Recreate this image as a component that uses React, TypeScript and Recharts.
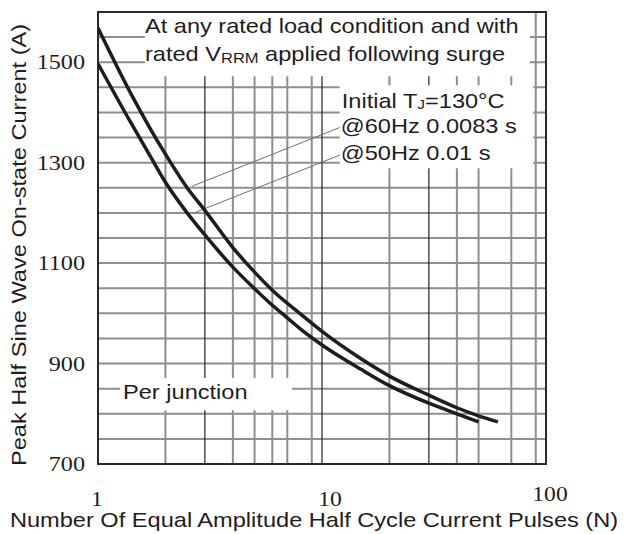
import React from "react";
import {
  CartesianGrid,
  Line,
  LineChart,
  ReferenceArea,
  ReferenceLine,
  XAxis,
  YAxis,
} from "recharts";

// 60Hz 0.0083 s (upper curve)
const UPPER_N = [1, 1.4, 1.7, 2, 2.5, 3, 4, 5, 6, 8, 10, 15, 20, 30, 40, 50, 61];
const UPPER_I = [1568, 1438, 1370, 1317, 1250, 1205, 1131, 1082, 1046, 999, 964, 909, 875, 837, 812, 796, 784];

// 50Hz 0.01 s (lower curve)
const LOWER_N = [1, 1.4, 1.7, 2, 2.5, 3, 4, 5, 6, 7, 8, 10, 15, 20, 30, 40, 50];
const LOWER_I = [1497, 1380, 1315, 1261, 1200, 1156, 1092, 1049, 1016, 991, 969, 937, 888, 856, 821, 800, 784];

const X_TICKS = [1, 10, 100];
const Y_TICKS = [700, 900, 1100, 1300, 1500];
const GRID_X_GRAY = [2, 4, 5, 6, 7, 8, 9, 20, 40, 50, 60, 70, 80, 90];
const GRID_X_DARK = [3, 10, 30];
const GRID_Y = [750, 800, 850, 900, 950, 1000, 1050, 1100, 1150, 1200, 1250, 1300, 1350, 1400, 1450, 1500, 1550];

const upperData = UPPER_N.map((n, i) => ({ n, i: UPPER_I[i] }));
const lowerData = LOWER_N.map((n, i) => ({ n, i: LOWER_I[i] }));

const INK = "#1f1c1d";
const GRID = "#8e8e8e";
const SANS = "'Liberation Sans', Arial, sans-serif";
const SERIF = "'Liberation Serif', 'Times New Roman', serif";
const STRETCH = 1.18;

function Wide({
  x,
  y,
  size = 20,
  family = SANS,
  anchor = "start",
  rotate = 0,
  children,
}: any) {
  const rot = rotate ? ` rotate(${rotate})` : "";
  return (
    <text
      transform={`translate(${x},${y})${rot} scale(${STRETCH},1)`}
      fontSize={size}
      fontFamily={family}
      textAnchor={anchor}
      fill={INK}
    >
      {children}
    </text>
  );
}

const X_NUDGE: Record<number, [number, number]> = { 1: [-1, 0], 10: [8, 0], 100: [4, -5] };

function XTick({ x, y, payload }: any) {
  const [dx, dy] = X_NUDGE[payload.value] || [0, 0];
  return (
    <Wide x={x + dx} y={y + 34 + dy} family={SERIF} anchor="middle">
      {payload.value}
    </Wide>
  );
}

function YTick({ x, y, payload }: any) {
  return (
    <Wide x={x - 5} y={y + 7} size={20.5} family={SERIF} anchor="end">
      {payload.value}
    </Wide>
  );
}

function NoteTop({ viewBox }: any) {
  const { x, y } = viewBox;
  return (
    <g>
      <Wide x={x} y={y + 21}>At any rated load condition and with</Wide>
      <Wide x={x} y={y + 49}>
        rated V
        <tspan fontSize={14} dy={2}>RRM</tspan>
        <tspan dy={-2}> applied following surge</tspan>
      </Wide>
    </g>
  );
}

function NoteRight({ viewBox }: any) {
  const { x, y } = viewBox;
  return (
    <g>
      <Wide x={x + 2} y={y + 23}>
        Initial T<tspan fontSize={13} dy={1}>J</tspan>
        <tspan dy={-1}>=130°C</tspan>
      </Wide>
      <Wide x={x + 1} y={y + 48}>@60Hz 0.0083 s</Wide>
      <Wide x={x + 1} y={y + 75}>@50Hz 0.01 s</Wide>
    </g>
  );
}

function NoteJunction({ viewBox }: any) {
  const { x, y } = viewBox;
  return (
    <Wide x={x + 3} y={y + 21}>
      Per junction
    </Wide>
  );
}

export default function App() {
  return (
    <div style={{ position: "absolute", left: 0, top: 0, background: "#fff" }}>
      <div style={{ position: "relative", width: 626, height: 534 }}>
        <LineChart width={626} height={534} margin={{ top: 12, right: 80, bottom: 0, left: 0 }}>
          <CartesianGrid
            horizontalValues={GRID_Y}
            verticalValues={GRID_X_GRAY}
            stroke={GRID}
            strokeWidth={2}
          />
          <CartesianGrid horizontal={false} verticalValues={GRID_X_DARK} stroke="#222" strokeWidth={1.2} />
          <XAxis
            dataKey="n"
            type="number"
            scale="log"
            domain={[1, 100]}
            allowDataOverflow
            ticks={X_TICKS}
            tick={<XTick />}
            tickLine={false}
            axisLine={false}
            height={70}
          />
          <YAxis
            type="number"
            domain={[700, 1600]}
            allowDataOverflow
            ticks={Y_TICKS}
            tick={<YTick />}
            tickLine={false}
            axisLine={false}
            width={98}
          />
          <ReferenceArea x1={1.62} x2={84.8} y1={1472} y2={1600} fill="#fff" fillOpacity={1} stroke="none" label={<NoteTop />} />
          <ReferenceArea x1={12} x2={87.7} y1={1289} y2={1454} fill="#fff" fillOpacity={1} stroke="none" label={<NoteRight />} />
          <ReferenceArea x1={1.254} x2={7.36} y1={807} y2={871} fill="#fff" fillOpacity={1} stroke="none" label={<NoteJunction />} />
          <ReferenceArea x1={1} x2={100} y1={700} y2={1600} fill="none" stroke="#2a2a2a" strokeWidth={2} />
          <ReferenceLine
            segment={[
              { x: 2.63, y: 1253 },
              { x: 12, y: 1370 },
            ]}
            stroke="#6e6e6e"
            strokeWidth={1}
          />
          <ReferenceLine
            segment={[
              { x: 2.65, y: 1199 },
              { x: 12, y: 1315 },
            ]}
            stroke="#6e6e6e"
            strokeWidth={1}
          />
          <Line
            data={upperData}
            dataKey="i"
            type="monotone"
            dot={false}
            stroke={INK}
            strokeWidth={3.5}
            isAnimationActive={false}
          />
          <Line
            data={lowerData}
            dataKey="i"
            type="monotone"
            dot={false}
            stroke={INK}
            strokeWidth={3.5}
            isAnimationActive={false}
          />
        </LineChart>
        <svg
          width={626}
          height={534}
          style={{ position: "absolute", left: 0, top: 0, pointerEvents: "none" }}
        >
          <Wide x={26} y={245} rotate={-90} anchor="middle">
            Peak Half Sine Wave On-state Current (A)
          </Wide>
          <Wide x={314} y={527} anchor="middle">
            Number Of Equal Amplitude Half Cycle Current Pulses (N)
          </Wide>
        </svg>
      </div>
    </div>
  );
}
